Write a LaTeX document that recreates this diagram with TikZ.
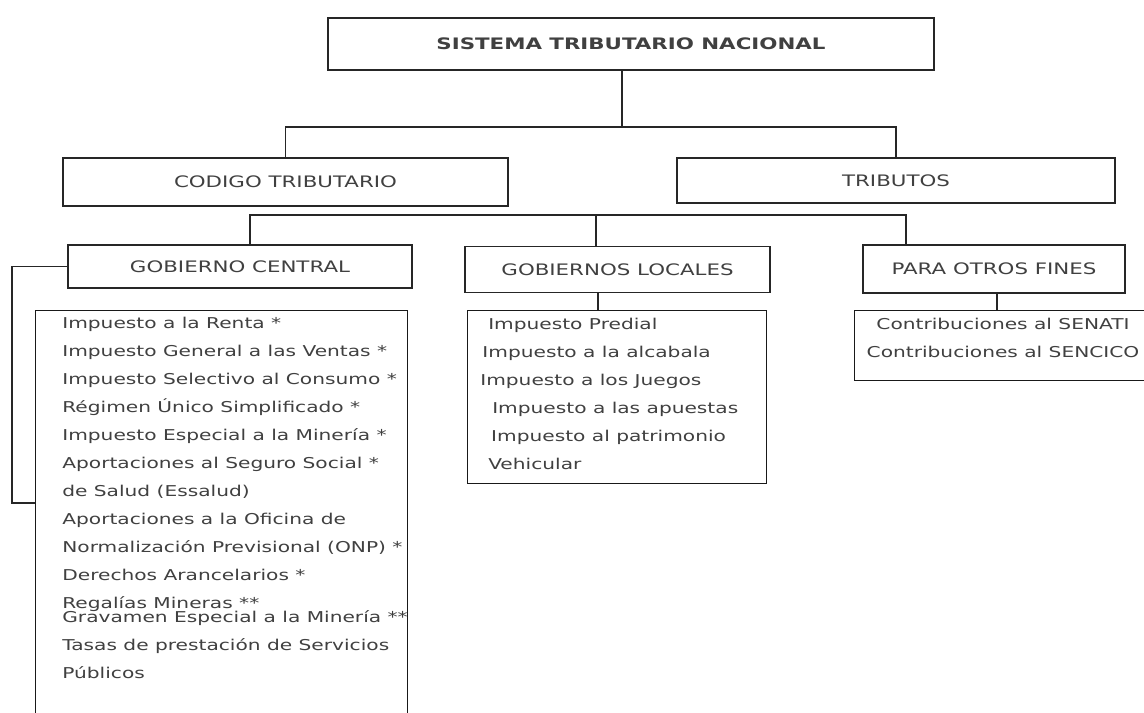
\documentclass[tikz,border=0pt]{standalone}
\usepackage{fontspec}
\setmainfont{DejaVu Sans}[FakeStretch=1.35]
\usetikzlibrary{positioning}

\begin{document}
\begin{tikzpicture}[x=0.02cm,y=-0.02cm,font=\fontsize{8.5}{15.9}\selectfont]
  \tikzset{box/.style={draw=black!85,line width=0.8pt,text=black!75,inner sep=0pt,
      font=\fontsize{9}{11}\selectfont},
    listbox/.style={draw=black!90,line width=0.8pt,anchor=north west,inner sep=0pt},
    lista/.style={anchor=north west,inner sep=0pt,align=left,text=black!75},
    wire/.style={draw=black!85,line width=0.8pt}}
  \clip (0,0) rectangle (1144,713);
  % cabecera
  \node[box,line width=1.6pt,minimum width=12.12cm,minimum height=1.04cm,
    font=\fontsize{9}{11}\selectfont\bfseries] (sistema) at (631,44) {SISTEMA TRIBUTARIO NACIONAL};
  \node[box,minimum width=8.9cm,minimum height=0.96cm] (codigo) at (285.5,182) {CODIGO TRIBUTARIO};
  \node[box,minimum width=8.76cm,minimum height=0.9cm] (tributos) at (896,180.5) {TRIBUTOS};
  % niveles de gobierno
  \node[box,minimum width=6.88cm,minimum height=0.86cm] (gcentral) at (240,266.5) {GOBIERNO CENTRAL};
  \node[box,minimum width=6.1cm,minimum height=0.92cm] (glocales) at (617.5,269.5) {GOBIERNOS LOCALES};
  \node[box,minimum width=5.24cm,minimum height=0.96cm] (otros) at (994,269) {PARA OTROS FINES};
  % listas
  \node[listbox,minimum width=7.44cm,minimum height=9cm] (listcentral) at (35,310) {};
  \node[listbox,minimum width=5.98cm,minimum height=3.46cm] (listlocales) at (467,310) {};
  \node[listbox,minimum width=6cm,minimum height=1.4cm] (listotros) at (854,310) {};
  \node[lista] (txtcentral) at ([shift={(27,7)}]listcentral.north west) {%
    Impuesto a la Renta *\\
    Impuesto General a las Ventas *\\
    Impuesto Selectivo al Consumo *\\
    Régimen Único Simplificado *\\
    Impuesto Especial a la Minería *\\
    Aportaciones al Seguro Social *\\
    de Salud (Essalud)\\
    Aportaciones a la Oficina de\\
    Normalización Previsional (ONP) *\\
    Derechos Arancelarios *\\
    Regalías Mineras **\\[-7.4pt]
    Gravamen Especial a la Minería **\\
    Tasas de prestación de Servicios\\
    Públicos};
  \node[lista] (txtlocales) at ([shift={(13,8)}]listlocales.north west) {%
    \hspace*{4.5pt}Impuesto Predial\\
    \hspace*{1.2pt}Impuesto a la alcabala\\
    Impuesto a los Juegos\\
    \hspace*{6.8pt}Impuesto a las apuestas\\
    \hspace*{6.2pt}Impuesto al patrimonio\\
    \hspace*{4.5pt}Vehicular};
  \node[lista,anchor=north,align=center] (txtotros) at ([shift={(149,8)}]listotros.north west) {%
    Contribuciones al SENATI\\
    Contribuciones al SENCICO};
  % conectores
  \coordinate (bus1) at (622,127);
  \draw[wire] (bus1 |- sistema.south) -- (bus1);
  \draw[wire] (codigo.north) |- (bus1) -| (tributos.north);
  \coordinate (bus2a) at (250,215);
  \coordinate (bus2b) at (596,215);
  \coordinate (bus2c) at (906,215);
  \draw[wire] (bus2a |- gcentral.north) -- (bus2a) -- (bus2c) -- (bus2c |- otros.north);
  \draw[wire] (bus2b) -- (bus2b |- glocales.north);
  \coordinate (bajada) at (598,300);
  \draw[wire] (bajada |- glocales.south) -- (bajada |- listlocales.north);
  \draw[wire] ([xshift=0.06cm]otros.south) -- ([xshift=0.06cm]otros.south |- listotros.north);
  \coordinate (llave) at (12,503);
  \draw[wire] (gcentral.west) -| (llave) -- (llave -| listcentral.west);
\end{tikzpicture}
\end{document}
